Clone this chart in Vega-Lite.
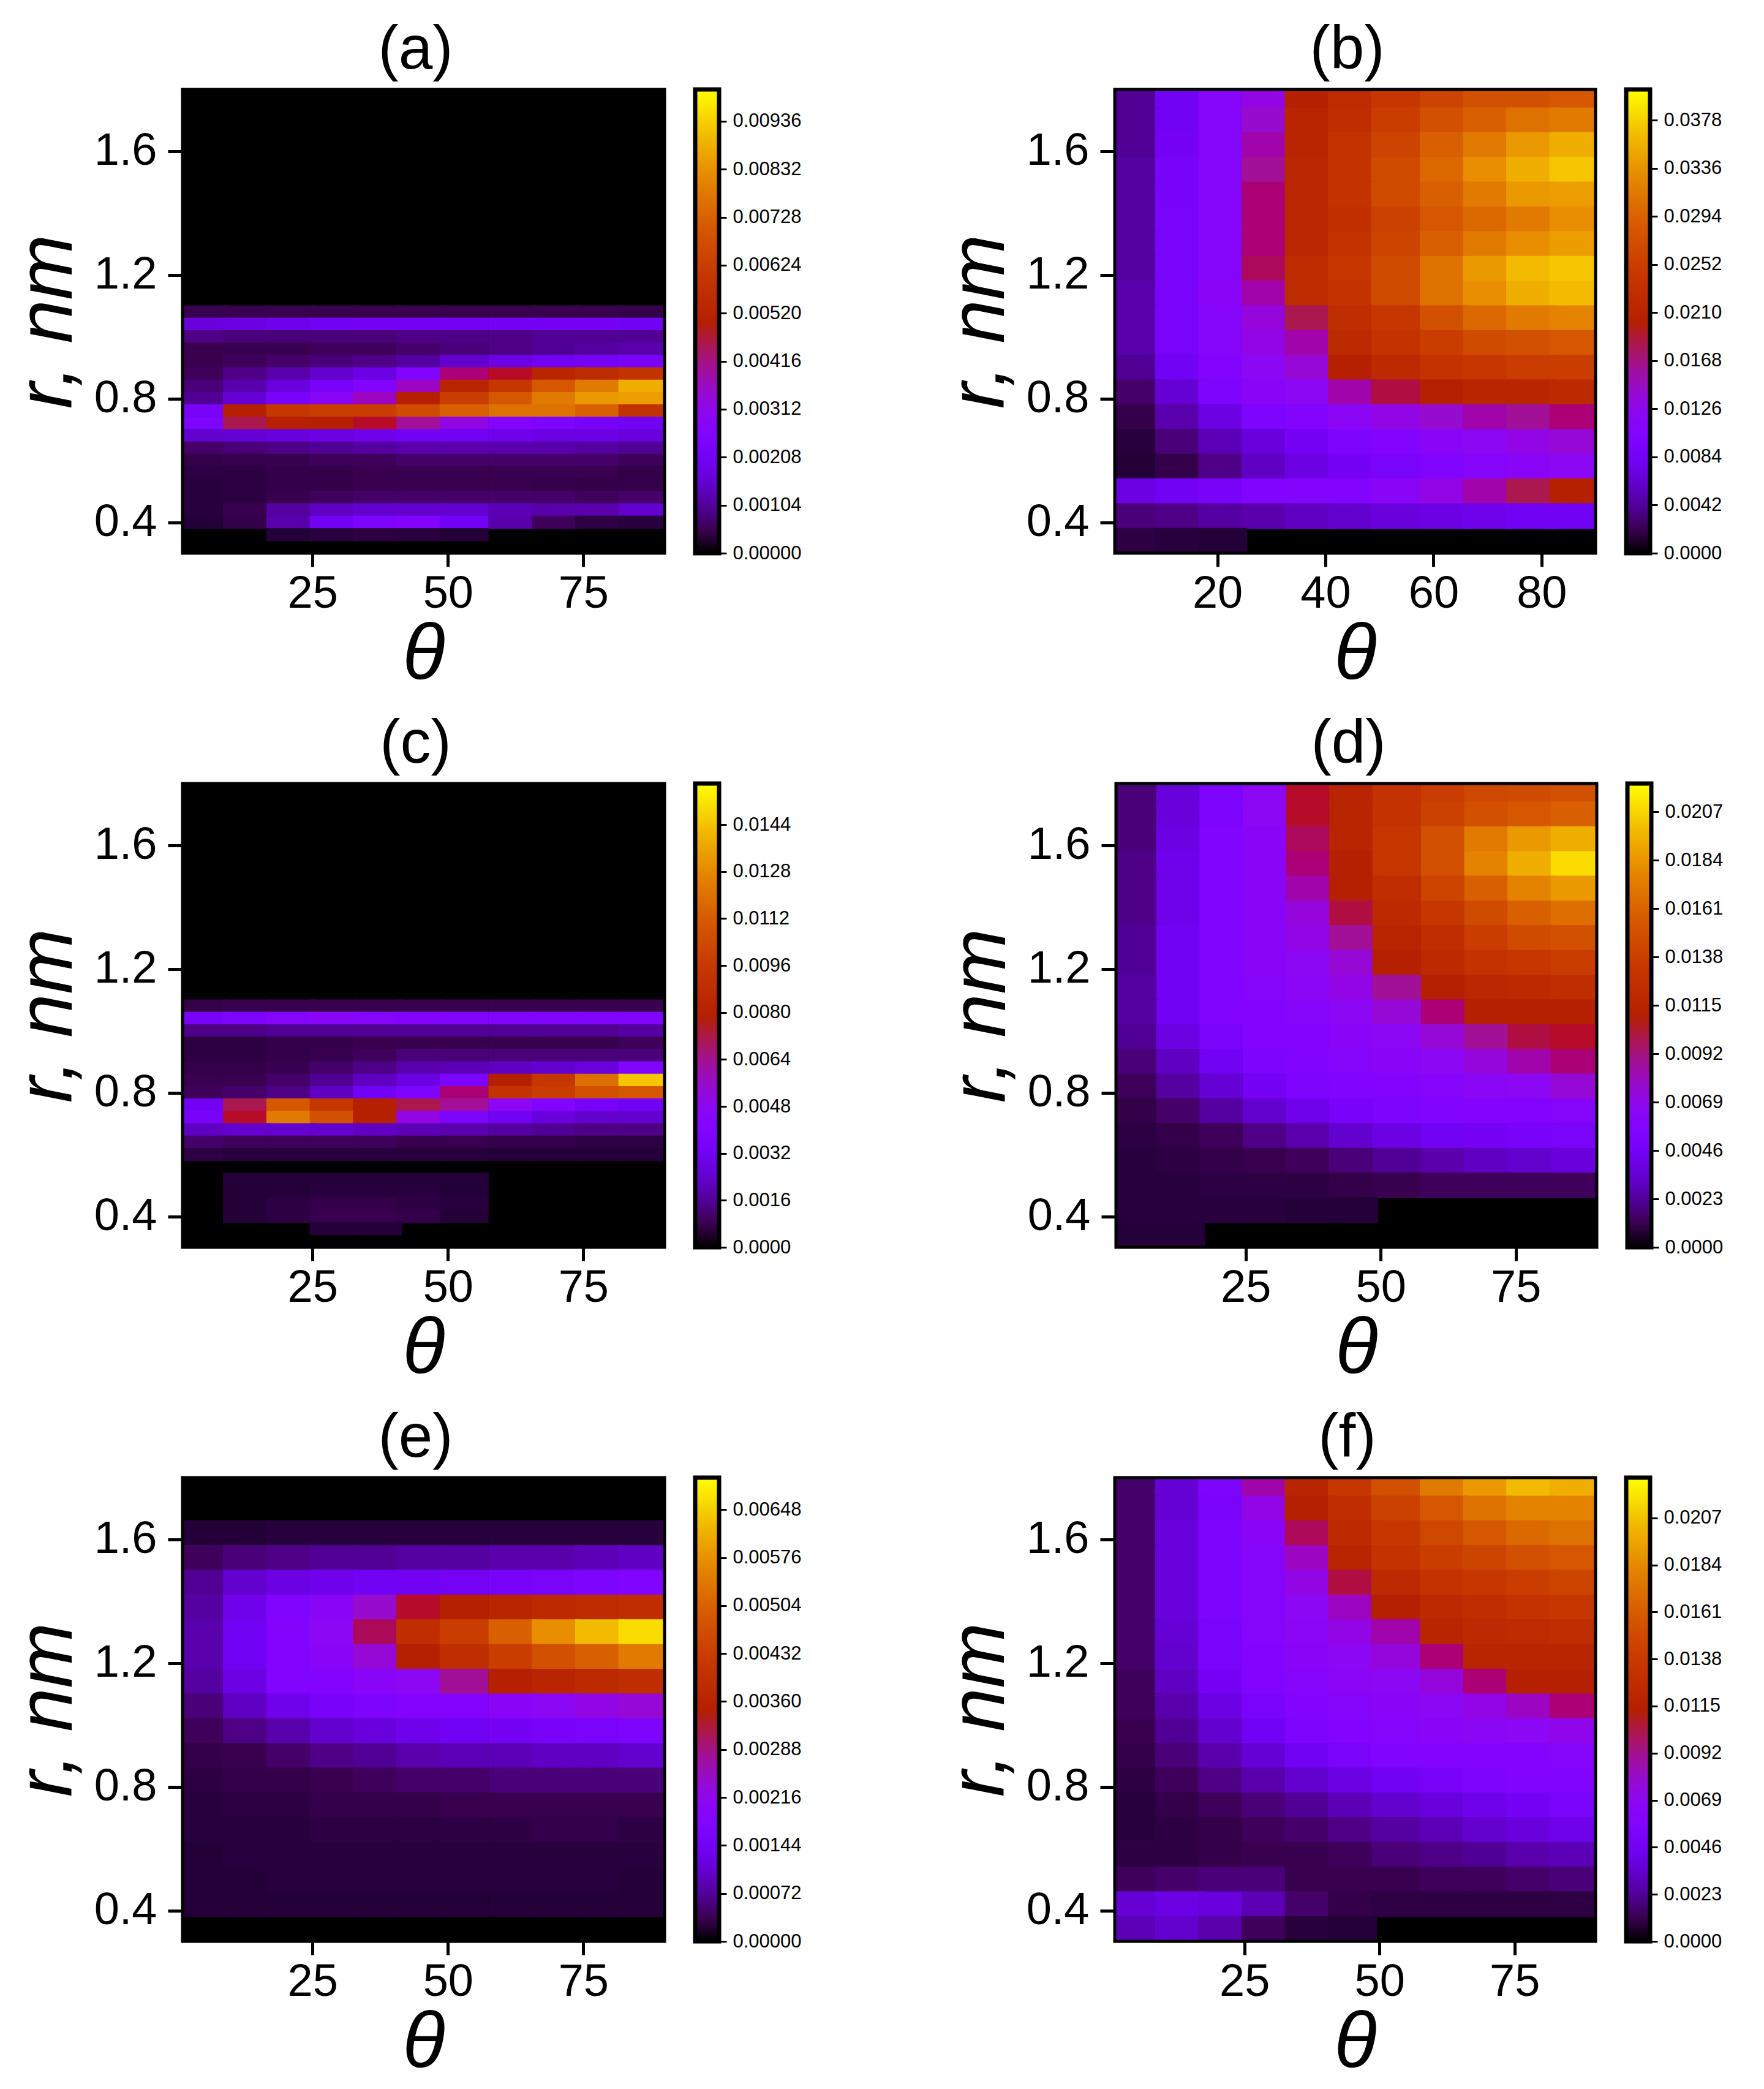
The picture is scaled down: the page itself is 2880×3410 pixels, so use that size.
{"$schema":"https://vega.github.io/schema/vega-lite/v6.json","background":"white","padding":{"left":14,"top":31,"right":0,"bottom":0},
"config":{"font":"Liberation Sans","view":{"stroke":null},"axis":{"grid":false,"domain":false,"tickColor":"black","labelColor":"black","titleColor":"black","labelFont":"Liberation Sans","titleFont":"Liberation Sans","titleFontStyle":"italic","titleFontWeight":"normal","titleFontSize":128,"labelFontSize":74,"tickWidth":5,"labelFlush":false},"axisX":{"tickSize":22,"labelPadding":8,"titlePadding":0},"axisY":{"tickSize":24,"labelPadding":18,"titlePadding":10},"title":{"font":"Liberation Sans","fontSize":100,"fontWeight":"normal","dx":-13,"offset":11}},
"datasets":{
"a":[
{"t":5,"r":1.08,"v":5},{"t":13,"r":1.08,"v":5},{"t":21,"r":1.08,"v":5},{"t":29,"r":1.08,"v":5},{"t":37,"r":1.08,"v":5},{"t":45,"r":1.08,"v":5},{"t":53,"r":1.08,"v":5},{"t":62,"r":1.08,"v":5},{"t":70,"r":1.08,"v":5},{"t":78,"r":1.08,"v":5},{"t":86,"r":1.08,"v":4},
{"t":5,"r":1.04,"v":17},{"t":13,"r":1.04,"v":18},{"t":21,"r":1.04,"v":19},{"t":29,"r":1.04,"v":20},{"t":37,"r":1.04,"v":21},{"t":45,"r":1.04,"v":21},{"t":53,"r":1.04,"v":21},{"t":62,"r":1.04,"v":21},{"t":70,"r":1.04,"v":21},{"t":78,"r":1.04,"v":21},{"t":86,"r":1.04,"v":20},
{"t":5,"r":1.0,"v":9},{"t":13,"r":1.0,"v":8},{"t":21,"r":1.0,"v":8},{"t":29,"r":1.0,"v":8},{"t":37,"r":1.0,"v":8},{"t":45,"r":1.0,"v":9},{"t":53,"r":1.0,"v":9},{"t":62,"r":1.0,"v":9},{"t":70,"r":1.0,"v":10},{"t":78,"r":1.0,"v":10},{"t":86,"r":1.0,"v":10},
{"t":5,"r":0.96,"v":5},{"t":13,"r":0.96,"v":5},{"t":21,"r":0.96,"v":5},{"t":29,"r":0.96,"v":6},{"t":37,"r":0.96,"v":6},{"t":45,"r":0.96,"v":7},{"t":53,"r":0.96,"v":8},{"t":62,"r":0.96,"v":9},{"t":70,"r":0.96,"v":10},{"t":78,"r":0.96,"v":11},{"t":86,"r":0.96,"v":12},
{"t":5,"r":0.92,"v":5},{"t":13,"r":0.92,"v":6},{"t":21,"r":0.92,"v":7},{"t":29,"r":0.92,"v":8},{"t":37,"r":0.92,"v":9},{"t":45,"r":0.92,"v":11},{"t":53,"r":0.92,"v":15},{"t":62,"r":0.92,"v":18},{"t":70,"r":0.92,"v":20},{"t":78,"r":0.92,"v":21},{"t":86,"r":0.92,"v":22},
{"t":5,"r":0.88,"v":6},{"t":13,"r":0.88,"v":9},{"t":21,"r":0.88,"v":12},{"t":29,"r":0.88,"v":15},{"t":37,"r":0.88,"v":18},{"t":45,"r":0.88,"v":25},{"t":53,"r":0.88,"v":42},{"t":62,"r":0.88,"v":48},{"t":70,"r":0.88,"v":52},{"t":78,"r":0.88,"v":55},{"t":86,"r":0.88,"v":58},
{"t":5,"r":0.84,"v":8},{"t":13,"r":0.84,"v":12},{"t":21,"r":0.84,"v":17},{"t":29,"r":0.84,"v":22},{"t":37,"r":0.84,"v":26},{"t":45,"r":0.84,"v":36},{"t":53,"r":0.84,"v":52},{"t":62,"r":0.84,"v":60},{"t":70,"r":0.84,"v":70},{"t":78,"r":0.84,"v":78},{"t":86,"r":0.84,"v":88},
{"t":5,"r":0.8,"v":10},{"t":13,"r":0.8,"v":16},{"t":21,"r":0.8,"v":22},{"t":29,"r":0.8,"v":28},{"t":37,"r":0.8,"v":36},{"t":45,"r":0.8,"v":50},{"t":53,"r":0.8,"v":62},{"t":62,"r":0.8,"v":70},{"t":70,"r":0.8,"v":78},{"t":78,"r":0.8,"v":84},{"t":86,"r":0.8,"v":85},
{"t":5,"r":0.76,"v":22},{"t":13,"r":0.76,"v":50},{"t":21,"r":0.76,"v":60},{"t":29,"r":0.76,"v":62},{"t":37,"r":0.76,"v":62},{"t":45,"r":0.76,"v":66},{"t":53,"r":0.76,"v":72},{"t":62,"r":0.76,"v":76},{"t":70,"r":0.76,"v":76},{"t":78,"r":0.76,"v":72},{"t":86,"r":0.76,"v":58},
{"t":5,"r":0.72,"v":24},{"t":13,"r":0.72,"v":45},{"t":21,"r":0.72,"v":50},{"t":29,"r":0.72,"v":50},{"t":37,"r":0.72,"v":48},{"t":45,"r":0.72,"v":40},{"t":53,"r":0.72,"v":32},{"t":62,"r":0.72,"v":26},{"t":70,"r":0.72,"v":24},{"t":78,"r":0.72,"v":22},{"t":86,"r":0.72,"v":20},
{"t":5,"r":0.68,"v":15},{"t":13,"r":0.68,"v":16},{"t":21,"r":0.68,"v":17},{"t":29,"r":0.68,"v":18},{"t":37,"r":0.68,"v":19},{"t":45,"r":0.68,"v":20},{"t":53,"r":0.68,"v":20},{"t":62,"r":0.68,"v":19},{"t":70,"r":0.68,"v":18},{"t":78,"r":0.68,"v":18},{"t":86,"r":0.68,"v":17},
{"t":5,"r":0.64,"v":7},{"t":13,"r":0.64,"v":8},{"t":21,"r":0.64,"v":9},{"t":29,"r":0.64,"v":10},{"t":37,"r":0.64,"v":11},{"t":45,"r":0.64,"v":12},{"t":53,"r":0.64,"v":12},{"t":62,"r":0.64,"v":12},{"t":70,"r":0.64,"v":12},{"t":78,"r":0.64,"v":11},{"t":86,"r":0.64,"v":10},
{"t":5,"r":0.6,"v":4},{"t":13,"r":0.6,"v":5},{"t":21,"r":0.6,"v":5},{"t":29,"r":0.6,"v":6},{"t":37,"r":0.6,"v":6},{"t":45,"r":0.6,"v":7},{"t":53,"r":0.6,"v":7},{"t":62,"r":0.6,"v":7},{"t":70,"r":0.6,"v":7},{"t":78,"r":0.6,"v":7},{"t":86,"r":0.6,"v":6},
{"t":5,"r":0.56,"v":3},{"t":13,"r":0.56,"v":3},{"t":21,"r":0.56,"v":4},{"t":29,"r":0.56,"v":4},{"t":37,"r":0.56,"v":5},{"t":45,"r":0.56,"v":5},{"t":53,"r":0.56,"v":5},{"t":62,"r":0.56,"v":5},{"t":70,"r":0.56,"v":5},{"t":78,"r":0.56,"v":5},{"t":86,"r":0.56,"v":4},
{"t":5,"r":0.52,"v":2},{"t":13,"r":0.52,"v":3},{"t":21,"r":0.52,"v":4},{"t":29,"r":0.52,"v":4},{"t":37,"r":0.52,"v":5},{"t":45,"r":0.52,"v":5},{"t":53,"r":0.52,"v":5},{"t":62,"r":0.52,"v":5},{"t":70,"r":0.52,"v":4},{"t":78,"r":0.52,"v":4},{"t":86,"r":0.52,"v":4},
{"t":5,"r":0.48,"v":2},{"t":13,"r":0.48,"v":3},{"t":21,"r":0.48,"v":5},{"t":29,"r":0.48,"v":6},{"t":37,"r":0.48,"v":7},{"t":45,"r":0.48,"v":7},{"t":53,"r":0.48,"v":7},{"t":62,"r":0.48,"v":7},{"t":70,"r":0.48,"v":7},{"t":78,"r":0.48,"v":6},{"t":86,"r":0.48,"v":7},
{"t":5,"r":0.44,"v":2},{"t":13,"r":0.44,"v":5},{"t":21,"r":0.44,"v":11},{"t":29,"r":0.44,"v":14},{"t":37,"r":0.44,"v":15},{"t":45,"r":0.44,"v":15},{"t":53,"r":0.44,"v":15},{"t":62,"r":0.44,"v":13},{"t":70,"r":0.44,"v":12},{"t":78,"r":0.44,"v":12},{"t":86,"r":0.44,"v":15},
{"t":5,"r":0.4,"v":1},{"t":13,"r":0.4,"v":4},{"t":21,"r":0.4,"v":12},{"t":29,"r":0.4,"v":20},{"t":37,"r":0.4,"v":24},{"t":45,"r":0.4,"v":26},{"t":53,"r":0.4,"v":20},{"t":62,"r":0.4,"v":12},{"t":70,"r":0.4,"v":6},{"t":78,"r":0.4,"v":3},{"t":86,"r":0.4,"v":2},
{"t":21,"r":0.36,"v":1},{"t":29,"r":0.36,"v":2},{"t":37,"r":0.36,"v":3},{"t":45,"r":0.36,"v":2},{"t":53,"r":0.36,"v":1}],
"c":[
{"t":5,"r":1.08,"v":4},{"t":13,"r":1.08,"v":5},{"t":21,"r":1.08,"v":5},{"t":29,"r":1.08,"v":5},{"t":37,"r":1.08,"v":5},{"t":45,"r":1.08,"v":5},{"t":53,"r":1.08,"v":5},{"t":62,"r":1.08,"v":5},{"t":70,"r":1.08,"v":5},{"t":78,"r":1.08,"v":5},{"t":86,"r":1.08,"v":5},
{"t":5,"r":1.04,"v":22},{"t":13,"r":1.04,"v":24},{"t":21,"r":1.04,"v":27},{"t":29,"r":1.04,"v":28},{"t":37,"r":1.04,"v":27},{"t":45,"r":1.04,"v":26},{"t":53,"r":1.04,"v":25},{"t":62,"r":1.04,"v":25},{"t":70,"r":1.04,"v":25},{"t":78,"r":1.04,"v":25},{"t":86,"r":1.04,"v":25},
{"t":5,"r":1.0,"v":9},{"t":13,"r":1.0,"v":9},{"t":21,"r":1.0,"v":10},{"t":29,"r":1.0,"v":10},{"t":37,"r":1.0,"v":10},{"t":45,"r":1.0,"v":10},{"t":53,"r":1.0,"v":10},{"t":62,"r":1.0,"v":10},{"t":70,"r":1.0,"v":10},{"t":78,"r":1.0,"v":10},{"t":86,"r":1.0,"v":11},
{"t":5,"r":0.96,"v":3},{"t":13,"r":0.96,"v":3},{"t":21,"r":0.96,"v":4},{"t":29,"r":0.96,"v":4},{"t":37,"r":0.96,"v":5},{"t":45,"r":0.96,"v":5},{"t":53,"r":0.96,"v":5},{"t":62,"r":0.96,"v":5},{"t":70,"r":0.96,"v":5},{"t":78,"r":0.96,"v":5},{"t":86,"r":0.96,"v":6},
{"t":5,"r":0.92,"v":3},{"t":13,"r":0.92,"v":3},{"t":21,"r":0.92,"v":4},{"t":29,"r":0.92,"v":5},{"t":37,"r":0.92,"v":6},{"t":45,"r":0.92,"v":8},{"t":53,"r":0.92,"v":8},{"t":62,"r":0.92,"v":8},{"t":70,"r":0.92,"v":8},{"t":78,"r":0.92,"v":8},{"t":86,"r":0.92,"v":8},
{"t":5,"r":0.88,"v":4},{"t":13,"r":0.88,"v":4},{"t":21,"r":0.88,"v":5},{"t":29,"r":0.88,"v":7},{"t":37,"r":0.88,"v":9},{"t":45,"r":0.88,"v":12},{"t":53,"r":0.88,"v":13},{"t":62,"r":0.88,"v":14},{"t":70,"r":0.88,"v":15},{"t":78,"r":0.88,"v":17},{"t":86,"r":0.88,"v":25},
{"t":5,"r":0.84,"v":5},{"t":13,"r":0.84,"v":5},{"t":21,"r":0.84,"v":7},{"t":29,"r":0.84,"v":10},{"t":37,"r":0.84,"v":14},{"t":45,"r":0.84,"v":18},{"t":53,"r":0.84,"v":24},{"t":62,"r":0.84,"v":50},{"t":70,"r":0.84,"v":60},{"t":78,"r":0.84,"v":75},{"t":86,"r":0.84,"v":92},
{"t":5,"r":0.8,"v":6},{"t":13,"r":0.8,"v":7},{"t":21,"r":0.8,"v":9},{"t":29,"r":0.8,"v":14},{"t":37,"r":0.8,"v":20},{"t":45,"r":0.8,"v":24},{"t":53,"r":0.8,"v":42},{"t":62,"r":0.8,"v":58},{"t":70,"r":0.8,"v":62},{"t":78,"r":0.8,"v":68},{"t":86,"r":0.8,"v":70},
{"t":5,"r":0.76,"v":20},{"t":13,"r":0.76,"v":45},{"t":21,"r":0.76,"v":70},{"t":29,"r":0.76,"v":60},{"t":37,"r":0.76,"v":50},{"t":45,"r":0.76,"v":45},{"t":53,"r":0.76,"v":40},{"t":62,"r":0.76,"v":30},{"t":70,"r":0.76,"v":25},{"t":78,"r":0.76,"v":22},{"t":86,"r":0.76,"v":20},
{"t":5,"r":0.72,"v":22},{"t":13,"r":0.72,"v":48},{"t":21,"r":0.72,"v":78},{"t":29,"r":0.72,"v":68},{"t":37,"r":0.72,"v":50},{"t":45,"r":0.72,"v":32},{"t":53,"r":0.72,"v":24},{"t":62,"r":0.72,"v":20},{"t":70,"r":0.72,"v":17},{"t":78,"r":0.72,"v":15},{"t":86,"r":0.72,"v":15},
{"t":5,"r":0.68,"v":14},{"t":13,"r":0.68,"v":15},{"t":21,"r":0.68,"v":15},{"t":29,"r":0.68,"v":15},{"t":37,"r":0.68,"v":14},{"t":45,"r":0.68,"v":13},{"t":53,"r":0.68,"v":12},{"t":62,"r":0.68,"v":11},{"t":70,"r":0.68,"v":10},{"t":78,"r":0.68,"v":9},{"t":86,"r":0.68,"v":9},
{"t":5,"r":0.64,"v":7},{"t":13,"r":0.64,"v":6},{"t":21,"r":0.64,"v":6},{"t":29,"r":0.64,"v":6},{"t":37,"r":0.64,"v":6},{"t":45,"r":0.64,"v":5},{"t":53,"r":0.64,"v":5},{"t":62,"r":0.64,"v":4},{"t":70,"r":0.64,"v":4},{"t":78,"r":0.64,"v":3},{"t":86,"r":0.64,"v":3},
{"t":5,"r":0.6,"v":3},{"t":13,"r":0.6,"v":2},{"t":21,"r":0.6,"v":2},{"t":29,"r":0.6,"v":2},{"t":37,"r":0.6,"v":2},{"t":45,"r":0.6,"v":2},{"t":53,"r":0.6,"v":2},{"t":62,"r":0.6,"v":1},{"t":70,"r":0.6,"v":1},{"t":78,"r":0.6,"v":1},{"t":86,"r":0.6,"v":1},
{"t":13,"r":0.52,"v":1},{"t":21,"r":0.52,"v":1},{"t":29,"r":0.52,"v":1},{"t":37,"r":0.52,"v":1},{"t":45,"r":0.52,"v":1},{"t":53,"r":0.52,"v":1},
{"t":13,"r":0.48,"v":1},{"t":21,"r":0.48,"v":1},{"t":29,"r":0.48,"v":2},{"t":37,"r":0.48,"v":2},{"t":45,"r":0.48,"v":2},{"t":53,"r":0.48,"v":1},
{"t":13,"r":0.44,"v":1},{"t":21,"r":0.44,"v":3},{"t":29,"r":0.44,"v":4},{"t":37,"r":0.44,"v":4},{"t":45,"r":0.44,"v":3},{"t":53,"r":0.44,"v":2},
{"t":13,"r":0.4,"v":1},{"t":21,"r":0.4,"v":3},{"t":29,"r":0.4,"v":5},{"t":37,"r":0.4,"v":5},{"t":45,"r":0.4,"v":4},{"t":53,"r":0.4,"v":1},
{"t":29,"r":0.36,"v":1},{"t":37,"r":0.36,"v":1}],
"b":[
{"t":5,"r":1.78,"v":10},{"t":13,"r":1.78,"v":20},{"t":21,"r":1.78,"v":27},{"t":29,"r":1.78,"v":32},{"t":37,"r":1.78,"v":50},{"t":45,"r":1.78,"v":55},{"t":53,"r":1.78,"v":60},{"t":62,"r":1.78,"v":64},{"t":70,"r":1.78,"v":68},{"t":78,"r":1.78,"v":68},{"t":86,"r":1.78,"v":70},
{"t":5,"r":1.7,"v":10},{"t":13,"r":1.7,"v":20},{"t":21,"r":1.7,"v":27},{"t":29,"r":1.7,"v":35},{"t":37,"r":1.7,"v":52},{"t":45,"r":1.7,"v":56},{"t":53,"r":1.7,"v":62},{"t":62,"r":1.7,"v":68},{"t":70,"r":1.7,"v":72},{"t":78,"r":1.7,"v":76},{"t":86,"r":1.7,"v":78},
{"t":5,"r":1.62,"v":10},{"t":13,"r":1.62,"v":21},{"t":21,"r":1.62,"v":27},{"t":29,"r":1.62,"v":38},{"t":37,"r":1.62,"v":52},{"t":45,"r":1.62,"v":58},{"t":53,"r":1.62,"v":64},{"t":62,"r":1.62,"v":72},{"t":70,"r":1.62,"v":78},{"t":78,"r":1.62,"v":84},{"t":86,"r":1.62,"v":88},
{"t":5,"r":1.54,"v":11},{"t":13,"r":1.54,"v":22},{"t":21,"r":1.54,"v":27},{"t":29,"r":1.54,"v":40},{"t":37,"r":1.54,"v":53},{"t":45,"r":1.54,"v":58},{"t":53,"r":1.54,"v":66},{"t":62,"r":1.54,"v":74},{"t":70,"r":1.54,"v":82},{"t":78,"r":1.54,"v":88},{"t":86,"r":1.54,"v":92},
{"t":5,"r":1.46,"v":11},{"t":13,"r":1.46,"v":22},{"t":21,"r":1.46,"v":27},{"t":29,"r":1.46,"v":42},{"t":37,"r":1.46,"v":53},{"t":45,"r":1.46,"v":58},{"t":53,"r":1.46,"v":66},{"t":62,"r":1.46,"v":72},{"t":70,"r":1.46,"v":78},{"t":78,"r":1.46,"v":84},{"t":86,"r":1.46,"v":85},
{"t":5,"r":1.38,"v":11},{"t":13,"r":1.38,"v":23},{"t":21,"r":1.38,"v":27},{"t":29,"r":1.38,"v":42},{"t":37,"r":1.38,"v":53},{"t":45,"r":1.38,"v":57},{"t":53,"r":1.38,"v":63},{"t":62,"r":1.38,"v":70},{"t":70,"r":1.38,"v":74},{"t":78,"r":1.38,"v":78},{"t":86,"r":1.38,"v":82},
{"t":5,"r":1.3,"v":11},{"t":13,"r":1.3,"v":23},{"t":21,"r":1.3,"v":27},{"t":29,"r":1.3,"v":42},{"t":37,"r":1.3,"v":53},{"t":45,"r":1.3,"v":58},{"t":53,"r":1.3,"v":64},{"t":62,"r":1.3,"v":72},{"t":70,"r":1.3,"v":78},{"t":78,"r":1.3,"v":82},{"t":86,"r":1.3,"v":85},
{"t":5,"r":1.22,"v":11},{"t":13,"r":1.22,"v":23},{"t":21,"r":1.22,"v":27},{"t":29,"r":1.22,"v":44},{"t":37,"r":1.22,"v":55},{"t":45,"r":1.22,"v":60},{"t":53,"r":1.22,"v":66},{"t":62,"r":1.22,"v":76},{"t":70,"r":1.22,"v":84},{"t":78,"r":1.22,"v":90},{"t":86,"r":1.22,"v":92},
{"t":5,"r":1.14,"v":12},{"t":13,"r":1.14,"v":23},{"t":21,"r":1.14,"v":28},{"t":29,"r":1.14,"v":38},{"t":37,"r":1.14,"v":55},{"t":45,"r":1.14,"v":58},{"t":53,"r":1.14,"v":66},{"t":62,"r":1.14,"v":76},{"t":70,"r":1.14,"v":82},{"t":78,"r":1.14,"v":88},{"t":86,"r":1.14,"v":90},
{"t":5,"r":1.06,"v":12},{"t":13,"r":1.06,"v":23},{"t":21,"r":1.06,"v":27},{"t":29,"r":1.06,"v":33},{"t":37,"r":1.06,"v":45},{"t":45,"r":1.06,"v":56},{"t":53,"r":1.06,"v":60},{"t":62,"r":1.06,"v":68},{"t":70,"r":1.06,"v":74},{"t":78,"r":1.06,"v":78},{"t":86,"r":1.06,"v":80},
{"t":5,"r":0.98,"v":12},{"t":13,"r":0.98,"v":23},{"t":21,"r":0.98,"v":27},{"t":29,"r":0.98,"v":32},{"t":37,"r":0.98,"v":38},{"t":45,"r":0.98,"v":54},{"t":53,"r":0.98,"v":58},{"t":62,"r":0.98,"v":62},{"t":70,"r":0.98,"v":66},{"t":78,"r":0.98,"v":68},{"t":86,"r":0.98,"v":70},
{"t":5,"r":0.9,"v":10},{"t":13,"r":0.9,"v":20},{"t":21,"r":0.9,"v":26},{"t":29,"r":0.9,"v":30},{"t":37,"r":0.9,"v":34},{"t":45,"r":0.9,"v":50},{"t":53,"r":0.9,"v":54},{"t":62,"r":0.9,"v":58},{"t":70,"r":0.9,"v":60},{"t":78,"r":0.9,"v":62},{"t":86,"r":0.9,"v":62},
{"t":5,"r":0.82,"v":7},{"t":13,"r":0.82,"v":16},{"t":21,"r":0.82,"v":24},{"t":29,"r":0.82,"v":28},{"t":37,"r":0.82,"v":30},{"t":45,"r":0.82,"v":38},{"t":53,"r":0.82,"v":46},{"t":62,"r":0.82,"v":50},{"t":70,"r":0.82,"v":52},{"t":78,"r":0.82,"v":52},{"t":86,"r":0.82,"v":54},
{"t":5,"r":0.74,"v":4},{"t":13,"r":0.74,"v":12},{"t":21,"r":0.74,"v":18},{"t":29,"r":0.74,"v":24},{"t":37,"r":0.74,"v":26},{"t":45,"r":0.74,"v":29},{"t":53,"r":0.74,"v":32},{"t":62,"r":0.74,"v":35},{"t":70,"r":0.74,"v":38},{"t":78,"r":0.74,"v":40},{"t":86,"r":0.74,"v":42},
{"t":5,"r":0.66,"v":2},{"t":13,"r":0.66,"v":8},{"t":21,"r":0.66,"v":13},{"t":29,"r":0.66,"v":17},{"t":37,"r":0.66,"v":21},{"t":45,"r":0.66,"v":24},{"t":53,"r":0.66,"v":26},{"t":62,"r":0.66,"v":28},{"t":70,"r":0.66,"v":30},{"t":78,"r":0.66,"v":32},{"t":86,"r":0.66,"v":34},
{"t":5,"r":0.58,"v":1},{"t":13,"r":0.58,"v":4},{"t":21,"r":0.58,"v":9},{"t":29,"r":0.58,"v":14},{"t":37,"r":0.58,"v":18},{"t":45,"r":0.58,"v":21},{"t":53,"r":0.58,"v":23},{"t":62,"r":0.58,"v":25},{"t":70,"r":0.58,"v":27},{"t":78,"r":0.58,"v":28},{"t":86,"r":0.58,"v":30},
{"t":5,"r":0.5,"v":18},{"t":13,"r":0.5,"v":20},{"t":21,"r":0.5,"v":22},{"t":29,"r":0.5,"v":25},{"t":37,"r":0.5,"v":26},{"t":45,"r":0.5,"v":26},{"t":53,"r":0.5,"v":28},{"t":62,"r":0.5,"v":32},{"t":70,"r":0.5,"v":38},{"t":78,"r":0.5,"v":45},{"t":86,"r":0.5,"v":50},
{"t":5,"r":0.42,"v":8},{"t":13,"r":0.42,"v":9},{"t":21,"r":0.42,"v":11},{"t":29,"r":0.42,"v":12},{"t":37,"r":0.42,"v":14},{"t":45,"r":0.42,"v":15},{"t":53,"r":0.42,"v":17},{"t":62,"r":0.42,"v":18},{"t":70,"r":0.42,"v":19},{"t":78,"r":0.42,"v":20},{"t":86,"r":0.42,"v":20},
{"t":5,"r":0.34,"v":3},{"t":13,"r":0.34,"v":2},{"t":21,"r":0.34,"v":1}],
"d":[
{"t":5,"r":1.78,"v":8},{"t":13,"r":1.78,"v":17},{"t":21,"r":1.78,"v":24},{"t":29,"r":1.78,"v":30},{"t":37,"r":1.78,"v":48},{"t":45,"r":1.78,"v":52},{"t":53,"r":1.78,"v":58},{"t":62,"r":1.78,"v":62},{"t":70,"r":1.78,"v":65},{"t":78,"r":1.78,"v":66},{"t":86,"r":1.78,"v":68},
{"t":5,"r":1.7,"v":8},{"t":13,"r":1.7,"v":17},{"t":21,"r":1.7,"v":24},{"t":29,"r":1.7,"v":30},{"t":37,"r":1.7,"v":48},{"t":45,"r":1.7,"v":52},{"t":53,"r":1.7,"v":58},{"t":62,"r":1.7,"v":63},{"t":70,"r":1.7,"v":68},{"t":78,"r":1.7,"v":70},{"t":86,"r":1.7,"v":72},
{"t":5,"r":1.62,"v":8},{"t":13,"r":1.62,"v":18},{"t":21,"r":1.62,"v":25},{"t":29,"r":1.62,"v":28},{"t":37,"r":1.62,"v":44},{"t":45,"r":1.62,"v":52},{"t":53,"r":1.62,"v":60},{"t":62,"r":1.62,"v":68},{"t":70,"r":1.62,"v":78},{"t":78,"r":1.62,"v":84},{"t":86,"r":1.62,"v":88},
{"t":5,"r":1.54,"v":9},{"t":13,"r":1.54,"v":19},{"t":21,"r":1.54,"v":25},{"t":29,"r":1.54,"v":28},{"t":37,"r":1.54,"v":42},{"t":45,"r":1.54,"v":50},{"t":53,"r":1.54,"v":60},{"t":62,"r":1.54,"v":68},{"t":70,"r":1.54,"v":80},{"t":78,"r":1.54,"v":88},{"t":86,"r":1.54,"v":95},
{"t":5,"r":1.46,"v":9},{"t":13,"r":1.46,"v":19},{"t":21,"r":1.46,"v":25},{"t":29,"r":1.46,"v":28},{"t":37,"r":1.46,"v":38},{"t":45,"r":1.46,"v":50},{"t":53,"r":1.46,"v":56},{"t":62,"r":1.46,"v":64},{"t":70,"r":1.46,"v":72},{"t":78,"r":1.46,"v":80},{"t":86,"r":1.46,"v":84},
{"t":5,"r":1.38,"v":9},{"t":13,"r":1.38,"v":19},{"t":21,"r":1.38,"v":25},{"t":29,"r":1.38,"v":28},{"t":37,"r":1.38,"v":33},{"t":45,"r":1.38,"v":46},{"t":53,"r":1.38,"v":54},{"t":62,"r":1.38,"v":60},{"t":70,"r":1.38,"v":66},{"t":78,"r":1.38,"v":72},{"t":86,"r":1.38,"v":75},
{"t":5,"r":1.3,"v":10},{"t":13,"r":1.3,"v":20},{"t":21,"r":1.3,"v":25},{"t":29,"r":1.3,"v":28},{"t":37,"r":1.3,"v":32},{"t":45,"r":1.3,"v":40},{"t":53,"r":1.3,"v":52},{"t":62,"r":1.3,"v":56},{"t":70,"r":1.3,"v":62},{"t":78,"r":1.3,"v":66},{"t":86,"r":1.3,"v":68},
{"t":5,"r":1.22,"v":10},{"t":13,"r":1.22,"v":20},{"t":21,"r":1.22,"v":25},{"t":29,"r":1.22,"v":28},{"t":37,"r":1.22,"v":30},{"t":45,"r":1.22,"v":34},{"t":53,"r":1.22,"v":50},{"t":62,"r":1.22,"v":54},{"t":70,"r":1.22,"v":58},{"t":78,"r":1.22,"v":60},{"t":86,"r":1.22,"v":62},
{"t":5,"r":1.14,"v":11},{"t":13,"r":1.14,"v":20},{"t":21,"r":1.14,"v":25},{"t":29,"r":1.14,"v":27},{"t":37,"r":1.14,"v":29},{"t":45,"r":1.14,"v":32},{"t":53,"r":1.14,"v":40},{"t":62,"r":1.14,"v":50},{"t":70,"r":1.14,"v":53},{"t":78,"r":1.14,"v":54},{"t":86,"r":1.14,"v":56},
{"t":5,"r":1.06,"v":11},{"t":13,"r":1.06,"v":20},{"t":21,"r":1.06,"v":25},{"t":29,"r":1.06,"v":26},{"t":37,"r":1.06,"v":27},{"t":45,"r":1.06,"v":30},{"t":53,"r":1.06,"v":34},{"t":62,"r":1.06,"v":42},{"t":70,"r":1.06,"v":50},{"t":78,"r":1.06,"v":50},{"t":86,"r":1.06,"v":50},
{"t":5,"r":0.98,"v":10},{"t":13,"r":0.98,"v":18},{"t":21,"r":0.98,"v":23},{"t":29,"r":0.98,"v":26},{"t":37,"r":0.98,"v":26},{"t":45,"r":0.98,"v":28},{"t":53,"r":0.98,"v":30},{"t":62,"r":0.98,"v":34},{"t":70,"r":0.98,"v":40},{"t":78,"r":0.98,"v":46},{"t":86,"r":0.98,"v":48},
{"t":5,"r":0.9,"v":8},{"t":13,"r":0.9,"v":14},{"t":21,"r":0.9,"v":20},{"t":29,"r":0.9,"v":24},{"t":37,"r":0.9,"v":25},{"t":45,"r":0.9,"v":27},{"t":53,"r":0.9,"v":28},{"t":62,"r":0.9,"v":30},{"t":70,"r":0.9,"v":33},{"t":78,"r":0.9,"v":38},{"t":86,"r":0.9,"v":42},
{"t":5,"r":0.82,"v":6},{"t":13,"r":0.82,"v":11},{"t":21,"r":0.82,"v":16},{"t":29,"r":0.82,"v":21},{"t":37,"r":0.82,"v":24},{"t":45,"r":0.82,"v":25},{"t":53,"r":0.82,"v":26},{"t":62,"r":0.82,"v":27},{"t":70,"r":0.82,"v":29},{"t":78,"r":0.82,"v":30},{"t":86,"r":0.82,"v":34},
{"t":5,"r":0.74,"v":4},{"t":13,"r":0.74,"v":7},{"t":21,"r":0.74,"v":11},{"t":29,"r":0.74,"v":15},{"t":37,"r":0.74,"v":19},{"t":45,"r":0.74,"v":22},{"t":53,"r":0.74,"v":24},{"t":62,"r":0.74,"v":25},{"t":70,"r":0.74,"v":26},{"t":78,"r":0.74,"v":26},{"t":86,"r":0.74,"v":27},
{"t":5,"r":0.66,"v":3},{"t":13,"r":0.66,"v":4},{"t":21,"r":0.66,"v":6},{"t":29,"r":0.66,"v":9},{"t":37,"r":0.66,"v":12},{"t":45,"r":0.66,"v":15},{"t":53,"r":0.66,"v":18},{"t":62,"r":0.66,"v":20},{"t":70,"r":0.66,"v":21},{"t":78,"r":0.66,"v":22},{"t":86,"r":0.66,"v":23},
{"t":5,"r":0.58,"v":2},{"t":13,"r":0.58,"v":3},{"t":21,"r":0.58,"v":4},{"t":29,"r":0.58,"v":5},{"t":37,"r":0.58,"v":6},{"t":45,"r":0.58,"v":8},{"t":53,"r":0.58,"v":10},{"t":62,"r":0.58,"v":12},{"t":70,"r":0.58,"v":14},{"t":78,"r":0.58,"v":15},{"t":86,"r":0.58,"v":17},
{"t":5,"r":0.5,"v":2},{"t":13,"r":0.5,"v":2},{"t":21,"r":0.5,"v":3},{"t":29,"r":0.5,"v":3},{"t":37,"r":0.5,"v":3},{"t":45,"r":0.5,"v":4},{"t":53,"r":0.5,"v":5},{"t":62,"r":0.5,"v":6},{"t":70,"r":0.5,"v":6},{"t":78,"r":0.5,"v":6},{"t":86,"r":0.5,"v":6},
{"t":5,"r":0.42,"v":2},{"t":13,"r":0.42,"v":2},{"t":21,"r":0.42,"v":2},{"t":29,"r":0.42,"v":2},{"t":37,"r":0.42,"v":1},{"t":45,"r":0.42,"v":1},
{"t":5,"r":0.34,"v":1},{"t":13,"r":0.34,"v":1}],
"e":[
{"t":5,"r":1.62,"v":1},{"t":13,"r":1.62,"v":1},{"t":21,"r":1.62,"v":2},{"t":29,"r":1.62,"v":2},{"t":37,"r":1.62,"v":2},{"t":45,"r":1.62,"v":2},{"t":53,"r":1.62,"v":2},{"t":62,"r":1.62,"v":2},{"t":70,"r":1.62,"v":2},{"t":78,"r":1.62,"v":2},{"t":86,"r":1.62,"v":2},
{"t":5,"r":1.54,"v":6},{"t":13,"r":1.54,"v":8},{"t":21,"r":1.54,"v":9},{"t":29,"r":1.54,"v":10},{"t":37,"r":1.54,"v":10},{"t":45,"r":1.54,"v":11},{"t":53,"r":1.54,"v":11},{"t":62,"r":1.54,"v":12},{"t":70,"r":1.54,"v":12},{"t":78,"r":1.54,"v":13},{"t":86,"r":1.54,"v":14},
{"t":5,"r":1.46,"v":10},{"t":13,"r":1.46,"v":15},{"t":21,"r":1.46,"v":18},{"t":29,"r":1.46,"v":19},{"t":37,"r":1.46,"v":20},{"t":45,"r":1.46,"v":20},{"t":53,"r":1.46,"v":21},{"t":62,"r":1.46,"v":22},{"t":70,"r":1.46,"v":23},{"t":78,"r":1.46,"v":24},{"t":86,"r":1.46,"v":25},
{"t":5,"r":1.38,"v":11},{"t":13,"r":1.38,"v":19},{"t":21,"r":1.38,"v":25},{"t":29,"r":1.38,"v":28},{"t":37,"r":1.38,"v":35},{"t":45,"r":1.38,"v":48},{"t":53,"r":1.38,"v":50},{"t":62,"r":1.38,"v":52},{"t":70,"r":1.38,"v":54},{"t":78,"r":1.38,"v":55},{"t":86,"r":1.38,"v":56},
{"t":5,"r":1.3,"v":12},{"t":13,"r":1.3,"v":20},{"t":21,"r":1.3,"v":26},{"t":29,"r":1.3,"v":30},{"t":37,"r":1.3,"v":44},{"t":45,"r":1.3,"v":56},{"t":53,"r":1.3,"v":62},{"t":62,"r":1.3,"v":72},{"t":70,"r":1.3,"v":82},{"t":78,"r":1.3,"v":90},{"t":86,"r":1.3,"v":95},
{"t":5,"r":1.22,"v":12},{"t":13,"r":1.22,"v":20},{"t":21,"r":1.22,"v":26},{"t":29,"r":1.22,"v":28},{"t":37,"r":1.22,"v":34},{"t":45,"r":1.22,"v":50},{"t":53,"r":1.22,"v":56},{"t":62,"r":1.22,"v":62},{"t":70,"r":1.22,"v":68},{"t":78,"r":1.22,"v":72},{"t":86,"r":1.22,"v":78},
{"t":5,"r":1.14,"v":11},{"t":13,"r":1.14,"v":18},{"t":21,"r":1.14,"v":25},{"t":29,"r":1.14,"v":26},{"t":37,"r":1.14,"v":28},{"t":45,"r":1.14,"v":30},{"t":53,"r":1.14,"v":40},{"t":62,"r":1.14,"v":50},{"t":70,"r":1.14,"v":52},{"t":78,"r":1.14,"v":54},{"t":86,"r":1.14,"v":56},
{"t":5,"r":1.06,"v":8},{"t":13,"r":1.06,"v":14},{"t":21,"r":1.06,"v":19},{"t":29,"r":1.06,"v":22},{"t":37,"r":1.06,"v":24},{"t":45,"r":1.06,"v":26},{"t":53,"r":1.06,"v":26},{"t":62,"r":1.06,"v":28},{"t":70,"r":1.06,"v":30},{"t":78,"r":1.06,"v":32},{"t":86,"r":1.06,"v":34},
{"t":5,"r":0.98,"v":6},{"t":13,"r":0.98,"v":9},{"t":21,"r":0.98,"v":12},{"t":29,"r":0.98,"v":15},{"t":37,"r":0.98,"v":17},{"t":45,"r":0.98,"v":19},{"t":53,"r":0.98,"v":20},{"t":62,"r":0.98,"v":21},{"t":70,"r":0.98,"v":22},{"t":78,"r":0.98,"v":23},{"t":86,"r":0.98,"v":24},
{"t":5,"r":0.9,"v":4},{"t":13,"r":0.9,"v":5},{"t":21,"r":0.9,"v":7},{"t":29,"r":0.9,"v":9},{"t":37,"r":0.9,"v":10},{"t":45,"r":0.9,"v":12},{"t":53,"r":0.9,"v":13},{"t":62,"r":0.9,"v":13},{"t":70,"r":0.9,"v":14},{"t":78,"r":0.9,"v":14},{"t":86,"r":0.9,"v":15},
{"t":5,"r":0.82,"v":3},{"t":13,"r":0.82,"v":4},{"t":21,"r":0.82,"v":4},{"t":29,"r":0.82,"v":5},{"t":37,"r":0.82,"v":6},{"t":45,"r":0.82,"v":7},{"t":53,"r":0.82,"v":7},{"t":62,"r":0.82,"v":8},{"t":70,"r":0.82,"v":8},{"t":78,"r":0.82,"v":8},{"t":86,"r":0.82,"v":8},
{"t":5,"r":0.74,"v":2},{"t":13,"r":0.74,"v":3},{"t":21,"r":0.74,"v":3},{"t":29,"r":0.74,"v":4},{"t":37,"r":0.74,"v":4},{"t":45,"r":0.74,"v":4},{"t":53,"r":0.74,"v":5},{"t":62,"r":0.74,"v":5},{"t":70,"r":0.74,"v":5},{"t":78,"r":0.74,"v":5},{"t":86,"r":0.74,"v":5},
{"t":5,"r":0.66,"v":2},{"t":13,"r":0.66,"v":2},{"t":21,"r":0.66,"v":2},{"t":29,"r":0.66,"v":3},{"t":37,"r":0.66,"v":3},{"t":45,"r":0.66,"v":3},{"t":53,"r":0.66,"v":3},{"t":62,"r":0.66,"v":3},{"t":70,"r":0.66,"v":4},{"t":78,"r":0.66,"v":4},{"t":86,"r":0.66,"v":3},
{"t":5,"r":0.58,"v":1},{"t":13,"r":0.58,"v":2},{"t":21,"r":0.58,"v":2},{"t":29,"r":0.58,"v":2},{"t":37,"r":0.58,"v":2},{"t":45,"r":0.58,"v":2},{"t":53,"r":0.58,"v":2},{"t":62,"r":0.58,"v":2},{"t":70,"r":0.58,"v":2},{"t":78,"r":0.58,"v":2},{"t":86,"r":0.58,"v":2},
{"t":5,"r":0.5,"v":1},{"t":13,"r":0.5,"v":1},{"t":21,"r":0.5,"v":2},{"t":29,"r":0.5,"v":2},{"t":37,"r":0.5,"v":2},{"t":45,"r":0.5,"v":2},{"t":53,"r":0.5,"v":2},{"t":62,"r":0.5,"v":2},{"t":70,"r":0.5,"v":2},{"t":78,"r":0.5,"v":2},{"t":86,"r":0.5,"v":1},
{"t":5,"r":0.42,"v":1},{"t":13,"r":0.42,"v":1},{"t":21,"r":0.42,"v":1},{"t":29,"r":0.42,"v":1},{"t":37,"r":0.42,"v":1},{"t":45,"r":0.42,"v":1},{"t":53,"r":0.42,"v":1},{"t":62,"r":0.42,"v":1},{"t":70,"r":0.42,"v":1},{"t":78,"r":0.42,"v":1},{"t":86,"r":0.42,"v":1}],
"f":[
{"t":5,"r":1.78,"v":7},{"t":13,"r":1.78,"v":16},{"t":21,"r":1.78,"v":24},{"t":29,"r":1.78,"v":38},{"t":37,"r":1.78,"v":52},{"t":45,"r":1.78,"v":60},{"t":53,"r":1.78,"v":68},{"t":62,"r":1.78,"v":78},{"t":70,"r":1.78,"v":84},{"t":78,"r":1.78,"v":90},{"t":86,"r":1.78,"v":88},
{"t":5,"r":1.7,"v":7},{"t":13,"r":1.7,"v":16},{"t":21,"r":1.7,"v":23},{"t":29,"r":1.7,"v":32},{"t":37,"r":1.7,"v":50},{"t":45,"r":1.7,"v":56},{"t":53,"r":1.7,"v":63},{"t":62,"r":1.7,"v":70},{"t":70,"r":1.7,"v":76},{"t":78,"r":1.7,"v":80},{"t":86,"r":1.7,"v":80},
{"t":5,"r":1.62,"v":7},{"t":13,"r":1.62,"v":17},{"t":21,"r":1.62,"v":24},{"t":29,"r":1.62,"v":28},{"t":37,"r":1.62,"v":44},{"t":45,"r":1.62,"v":54},{"t":53,"r":1.62,"v":60},{"t":62,"r":1.62,"v":65},{"t":70,"r":1.62,"v":70},{"t":78,"r":1.62,"v":74},{"t":86,"r":1.62,"v":76},
{"t":5,"r":1.54,"v":7},{"t":13,"r":1.54,"v":17},{"t":21,"r":1.54,"v":24},{"t":29,"r":1.54,"v":27},{"t":37,"r":1.54,"v":36},{"t":45,"r":1.54,"v":52},{"t":53,"r":1.54,"v":58},{"t":62,"r":1.54,"v":62},{"t":70,"r":1.54,"v":64},{"t":78,"r":1.54,"v":68},{"t":86,"r":1.54,"v":70},
{"t":5,"r":1.46,"v":7},{"t":13,"r":1.46,"v":17},{"t":21,"r":1.46,"v":24},{"t":29,"r":1.46,"v":27},{"t":37,"r":1.46,"v":32},{"t":45,"r":1.46,"v":46},{"t":53,"r":1.46,"v":54},{"t":62,"r":1.46,"v":58},{"t":70,"r":1.46,"v":60},{"t":78,"r":1.46,"v":62},{"t":86,"r":1.46,"v":64},
{"t":5,"r":1.38,"v":7},{"t":13,"r":1.38,"v":17},{"t":21,"r":1.38,"v":24},{"t":29,"r":1.38,"v":27},{"t":37,"r":1.38,"v":30},{"t":45,"r":1.38,"v":36},{"t":53,"r":1.38,"v":50},{"t":62,"r":1.38,"v":54},{"t":70,"r":1.38,"v":56},{"t":78,"r":1.38,"v":58},{"t":86,"r":1.38,"v":60},
{"t":5,"r":1.3,"v":7},{"t":13,"r":1.3,"v":16},{"t":21,"r":1.3,"v":23},{"t":29,"r":1.3,"v":27},{"t":37,"r":1.3,"v":29},{"t":45,"r":1.3,"v":32},{"t":53,"r":1.3,"v":38},{"t":62,"r":1.3,"v":52},{"t":70,"r":1.3,"v":54},{"t":78,"r":1.3,"v":55},{"t":86,"r":1.3,"v":56},
{"t":5,"r":1.22,"v":7},{"t":13,"r":1.22,"v":15},{"t":21,"r":1.22,"v":23},{"t":29,"r":1.22,"v":26},{"t":37,"r":1.22,"v":28},{"t":45,"r":1.22,"v":30},{"t":53,"r":1.22,"v":33},{"t":62,"r":1.22,"v":42},{"t":70,"r":1.22,"v":52},{"t":78,"r":1.22,"v":52},{"t":86,"r":1.22,"v":52},
{"t":5,"r":1.14,"v":6},{"t":13,"r":1.14,"v":14},{"t":21,"r":1.14,"v":21},{"t":29,"r":1.14,"v":25},{"t":37,"r":1.14,"v":27},{"t":45,"r":1.14,"v":29},{"t":53,"r":1.14,"v":30},{"t":62,"r":1.14,"v":33},{"t":70,"r":1.14,"v":42},{"t":78,"r":1.14,"v":50},{"t":86,"r":1.14,"v":50},
{"t":5,"r":1.06,"v":6},{"t":13,"r":1.06,"v":12},{"t":21,"r":1.06,"v":18},{"t":29,"r":1.06,"v":23},{"t":37,"r":1.06,"v":26},{"t":45,"r":1.06,"v":27},{"t":53,"r":1.06,"v":28},{"t":62,"r":1.06,"v":30},{"t":70,"r":1.06,"v":32},{"t":78,"r":1.06,"v":36},{"t":86,"r":1.06,"v":42},
{"t":5,"r":0.98,"v":5},{"t":13,"r":0.98,"v":10},{"t":21,"r":0.98,"v":15},{"t":29,"r":0.98,"v":20},{"t":37,"r":0.98,"v":24},{"t":45,"r":0.98,"v":26},{"t":53,"r":0.98,"v":27},{"t":62,"r":0.98,"v":28},{"t":70,"r":0.98,"v":29},{"t":78,"r":0.98,"v":30},{"t":86,"r":0.98,"v":31},
{"t":5,"r":0.9,"v":4},{"t":13,"r":0.9,"v":8},{"t":21,"r":0.9,"v":12},{"t":29,"r":0.9,"v":16},{"t":37,"r":0.9,"v":20},{"t":45,"r":0.9,"v":23},{"t":53,"r":0.9,"v":25},{"t":62,"r":0.9,"v":26},{"t":70,"r":0.9,"v":26},{"t":78,"r":0.9,"v":26},{"t":86,"r":0.9,"v":27},
{"t":5,"r":0.82,"v":3},{"t":13,"r":0.82,"v":6},{"t":21,"r":0.82,"v":9},{"t":29,"r":0.82,"v":12},{"t":37,"r":0.82,"v":15},{"t":45,"r":0.82,"v":18},{"t":53,"r":0.82,"v":20},{"t":62,"r":0.82,"v":22},{"t":70,"r":0.82,"v":24},{"t":78,"r":0.82,"v":25},{"t":86,"r":0.82,"v":25},
{"t":5,"r":0.74,"v":2},{"t":13,"r":0.74,"v":4},{"t":21,"r":0.74,"v":6},{"t":29,"r":0.74,"v":8},{"t":37,"r":0.74,"v":10},{"t":45,"r":0.74,"v":13},{"t":53,"r":0.74,"v":15},{"t":62,"r":0.74,"v":17},{"t":70,"r":0.74,"v":19},{"t":78,"r":0.74,"v":21},{"t":86,"r":0.74,"v":23},
{"t":5,"r":0.66,"v":2},{"t":13,"r":0.66,"v":3},{"t":21,"r":0.66,"v":4},{"t":29,"r":0.66,"v":6},{"t":37,"r":0.66,"v":7},{"t":45,"r":0.66,"v":9},{"t":53,"r":0.66,"v":11},{"t":62,"r":0.66,"v":13},{"t":70,"r":0.66,"v":15},{"t":78,"r":0.66,"v":17},{"t":86,"r":0.66,"v":19},
{"t":5,"r":0.58,"v":3},{"t":13,"r":0.58,"v":3},{"t":21,"r":0.58,"v":4},{"t":29,"r":0.58,"v":5},{"t":37,"r":0.58,"v":5},{"t":45,"r":0.58,"v":6},{"t":53,"r":0.58,"v":8},{"t":62,"r":0.58,"v":9},{"t":70,"r":0.58,"v":10},{"t":78,"r":0.58,"v":12},{"t":86,"r":0.58,"v":13},
{"t":5,"r":0.5,"v":6},{"t":13,"r":0.5,"v":7},{"t":21,"r":0.5,"v":8},{"t":29,"r":0.5,"v":8},{"t":37,"r":0.5,"v":5},{"t":45,"r":0.5,"v":5},{"t":53,"r":0.5,"v":5},{"t":62,"r":0.5,"v":6},{"t":70,"r":0.5,"v":6},{"t":78,"r":0.5,"v":7},{"t":86,"r":0.5,"v":8},
{"t":5,"r":0.42,"v":16},{"t":13,"r":0.42,"v":18},{"t":21,"r":0.42,"v":17},{"t":29,"r":0.42,"v":13},{"t":37,"r":0.42,"v":7},{"t":45,"r":0.42,"v":4},{"t":53,"r":0.42,"v":3},{"t":62,"r":0.42,"v":3},{"t":70,"r":0.42,"v":3},{"t":78,"r":0.42,"v":3},{"t":86,"r":0.42,"v":3},
{"t":5,"r":0.34,"v":13},{"t":13,"r":0.34,"v":15},{"t":21,"r":0.34,"v":12},{"t":29,"r":0.34,"v":6},{"t":37,"r":0.34,"v":2},{"t":45,"r":0.34,"v":1}]
},
"spacing":31,
"vconcat":[
{"spacing":227,"hconcat":[{"spacing":43,"hconcat":[
{"width":787,"height":757,"view":{"fill":"black","stroke":null},"title":"(a)","layer":[{"data":{"name":"a"},"mark":{"type":"rect","width":80,"height":21.5,"clip":true},"encoding":{"x":{"field":"t","type":"quantitative","scale":{"domain":[1,90],"nice":false,"zero":false},"axis":{"values":[25,50,75],"title":"θ"}},"y":{"field":"r","type":"quantitative","scale":{"domain":[0.3,1.8],"nice":false,"zero":false},"axis":{"values":[0.4,0.8,1.2,1.6],"format":".1f","title":"r, nm"}},"color":{"field":"v","type":"quantitative","legend":null,"scale":{"domain":[0,5,10,15,20,25,30,35,40,45,50,60,70,80,90,100],"range":["#000000","#39004f","#510096","#6301ce","#7202f3","#8004ff","#8c07f3","#970bce","#a11096","#ab174f","#b42000","#c63700","#d55700","#e48300","#f2ba00","#ffff00"]}}}},{"data":{"values":[{}]},"mark":{"type":"rect","filled":false,"stroke":"black","strokeWidth":5},"encoding":{}}]},
{"width":39,"height":757,"data":{"values":[{"v0":0,"v1":0.01005}]},"mark":{"type":"rect","stroke":"black","strokeWidth":7,"fill":{"gradient":"linear","x1":0,"y1":1,"x2":0,"y2":0,"stops":[{"offset":0,"color":"#000000"},{"offset":0.05,"color":"#39004f"},{"offset":0.1,"color":"#510096"},{"offset":0.15,"color":"#6301ce"},{"offset":0.2,"color":"#7202f3"},{"offset":0.25,"color":"#8004ff"},{"offset":0.3,"color":"#8c07f3"},{"offset":0.35,"color":"#970bce"},{"offset":0.4,"color":"#a11096"},{"offset":0.45,"color":"#ab174f"},{"offset":0.5,"color":"#b42000"},{"offset":0.6,"color":"#c63700"},{"offset":0.7,"color":"#d55700"},{"offset":0.8,"color":"#e48300"},{"offset":0.9,"color":"#f2ba00"},{"offset":1,"color":"#ffff00"}]}},"encoding":{"y":{"field":"v0","type":"quantitative","scale":{"domain":[0,0.01005],"nice":false},"axis":{"orient":"right","values":[0,0.00104,0.00208,0.00312,0.00416,0.0052,0.00624,0.00728,0.00832,0.00936],"format":".5f","title":null,"labelFontSize":31,"tickSize":12,"tickWidth":3,"labelPadding":10}},"y2":{"field":"v1"}}}
]},{"spacing":43,"hconcat":[
{"width":785,"height":757,"view":{"fill":"black","stroke":null},"title":"(b)","layer":[{"data":{"name":"b"},"mark":{"type":"rect","width":80,"height":42,"clip":true},"encoding":{"x":{"field":"t","type":"quantitative","scale":{"domain":[1,90],"nice":false,"zero":false},"axis":{"values":[20,40,60,80],"title":"θ"}},"y":{"field":"r","type":"quantitative","scale":{"domain":[0.3,1.8],"nice":false,"zero":false},"axis":{"values":[0.4,0.8,1.2,1.6],"format":".1f","title":"r, nm"}},"color":{"field":"v","type":"quantitative","legend":null,"scale":{"domain":[0,5,10,15,20,25,30,35,40,45,50,60,70,80,90,100],"range":["#000000","#39004f","#510096","#6301ce","#7202f3","#8004ff","#8c07f3","#970bce","#a11096","#ab174f","#b42000","#c63700","#d55700","#e48300","#f2ba00","#ffff00"]}}}},{"data":{"values":[{}]},"mark":{"type":"rect","filled":false,"stroke":"black","strokeWidth":5},"encoding":{}}]},
{"width":39,"height":757,"data":{"values":[{"v0":0,"v1":0.0405}]},"mark":{"type":"rect","stroke":"black","strokeWidth":7,"fill":{"gradient":"linear","x1":0,"y1":1,"x2":0,"y2":0,"stops":[{"offset":0,"color":"#000000"},{"offset":0.05,"color":"#39004f"},{"offset":0.1,"color":"#510096"},{"offset":0.15,"color":"#6301ce"},{"offset":0.2,"color":"#7202f3"},{"offset":0.25,"color":"#8004ff"},{"offset":0.3,"color":"#8c07f3"},{"offset":0.35,"color":"#970bce"},{"offset":0.4,"color":"#a11096"},{"offset":0.45,"color":"#ab174f"},{"offset":0.5,"color":"#b42000"},{"offset":0.6,"color":"#c63700"},{"offset":0.7,"color":"#d55700"},{"offset":0.8,"color":"#e48300"},{"offset":0.9,"color":"#f2ba00"},{"offset":1,"color":"#ffff00"}]}},"encoding":{"y":{"field":"v0","type":"quantitative","scale":{"domain":[0,0.0405],"nice":false},"axis":{"orient":"right","values":[0,0.0042,0.0084,0.0126,0.0168,0.021,0.0252,0.0294,0.0336,0.0378],"format":".4f","title":null,"labelFontSize":31,"tickSize":12,"tickWidth":3,"labelPadding":10}},"y2":{"field":"v1"}}}
]}]},
{"spacing":247,"hconcat":[{"spacing":43,"hconcat":[
{"width":787,"height":757,"view":{"fill":"black","stroke":null},"title":"(c)","layer":[{"data":{"name":"c"},"mark":{"type":"rect","width":80,"height":21.5,"clip":true},"encoding":{"x":{"field":"t","type":"quantitative","scale":{"domain":[1,90],"nice":false,"zero":false},"axis":{"values":[25,50,75],"title":"θ"}},"y":{"field":"r","type":"quantitative","scale":{"domain":[0.3,1.8],"nice":false,"zero":false},"axis":{"values":[0.4,0.8,1.2,1.6],"format":".1f","title":"r, nm"}},"color":{"field":"v","type":"quantitative","legend":null,"scale":{"domain":[0,5,10,15,20,25,30,35,40,45,50,60,70,80,90,100],"range":["#000000","#39004f","#510096","#6301ce","#7202f3","#8004ff","#8c07f3","#970bce","#a11096","#ab174f","#b42000","#c63700","#d55700","#e48300","#f2ba00","#ffff00"]}}}},{"data":{"values":[{}]},"mark":{"type":"rect","filled":false,"stroke":"black","strokeWidth":5},"encoding":{}}]},
{"width":39,"height":757,"data":{"values":[{"v0":0,"v1":0.0158}]},"mark":{"type":"rect","stroke":"black","strokeWidth":7,"fill":{"gradient":"linear","x1":0,"y1":1,"x2":0,"y2":0,"stops":[{"offset":0,"color":"#000000"},{"offset":0.05,"color":"#39004f"},{"offset":0.1,"color":"#510096"},{"offset":0.15,"color":"#6301ce"},{"offset":0.2,"color":"#7202f3"},{"offset":0.25,"color":"#8004ff"},{"offset":0.3,"color":"#8c07f3"},{"offset":0.35,"color":"#970bce"},{"offset":0.4,"color":"#a11096"},{"offset":0.45,"color":"#ab174f"},{"offset":0.5,"color":"#b42000"},{"offset":0.6,"color":"#c63700"},{"offset":0.7,"color":"#d55700"},{"offset":0.8,"color":"#e48300"},{"offset":0.9,"color":"#f2ba00"},{"offset":1,"color":"#ffff00"}]}},"encoding":{"y":{"field":"v0","type":"quantitative","scale":{"domain":[0,0.0158],"nice":false},"axis":{"orient":"right","values":[0,0.0016,0.0032,0.0048,0.0064,0.008,0.0096,0.0112,0.0128,0.0144],"format":".4f","title":null,"labelFontSize":31,"tickSize":12,"tickWidth":3,"labelPadding":10}},"y2":{"field":"v1"}}}
]},{"spacing":43,"hconcat":[
{"width":785,"height":757,"view":{"fill":"black","stroke":null},"title":"(d)","layer":[{"data":{"name":"d"},"mark":{"type":"rect","width":80,"height":42,"clip":true},"encoding":{"x":{"field":"t","type":"quantitative","scale":{"domain":[1,90],"nice":false,"zero":false},"axis":{"values":[25,50,75],"title":"θ"}},"y":{"field":"r","type":"quantitative","scale":{"domain":[0.3,1.8],"nice":false,"zero":false},"axis":{"values":[0.4,0.8,1.2,1.6],"format":".1f","title":"r, nm"}},"color":{"field":"v","type":"quantitative","legend":null,"scale":{"domain":[0,5,10,15,20,25,30,35,40,45,50,60,70,80,90,100],"range":["#000000","#39004f","#510096","#6301ce","#7202f3","#8004ff","#8c07f3","#970bce","#a11096","#ab174f","#b42000","#c63700","#d55700","#e48300","#f2ba00","#ffff00"]}}}},{"data":{"values":[{}]},"mark":{"type":"rect","filled":false,"stroke":"black","strokeWidth":5},"encoding":{}}]},
{"width":39,"height":757,"data":{"values":[{"v0":0,"v1":0.02204}]},"mark":{"type":"rect","stroke":"black","strokeWidth":7,"fill":{"gradient":"linear","x1":0,"y1":1,"x2":0,"y2":0,"stops":[{"offset":0,"color":"#000000"},{"offset":0.05,"color":"#39004f"},{"offset":0.1,"color":"#510096"},{"offset":0.15,"color":"#6301ce"},{"offset":0.2,"color":"#7202f3"},{"offset":0.25,"color":"#8004ff"},{"offset":0.3,"color":"#8c07f3"},{"offset":0.35,"color":"#970bce"},{"offset":0.4,"color":"#a11096"},{"offset":0.45,"color":"#ab174f"},{"offset":0.5,"color":"#b42000"},{"offset":0.6,"color":"#c63700"},{"offset":0.7,"color":"#d55700"},{"offset":0.8,"color":"#e48300"},{"offset":0.9,"color":"#f2ba00"},{"offset":1,"color":"#ffff00"}]}},"encoding":{"y":{"field":"v0","type":"quantitative","scale":{"domain":[0,0.02204],"nice":false},"axis":{"orient":"right","values":[0,0.0023,0.0046,0.0069,0.0092,0.0115,0.0138,0.0161,0.0184,0.0207],"format":".4f","title":null,"labelFontSize":31,"tickSize":12,"tickWidth":3,"labelPadding":10}},"y2":{"field":"v1"}}}
]}]},
{"spacing":227,"hconcat":[{"spacing":43,"hconcat":[
{"width":787,"height":757,"view":{"fill":"black","stroke":null},"title":"(e)","layer":[{"data":{"name":"e"},"mark":{"type":"rect","width":80,"height":42,"clip":true},"encoding":{"x":{"field":"t","type":"quantitative","scale":{"domain":[1,90],"nice":false,"zero":false},"axis":{"values":[25,50,75],"title":"θ"}},"y":{"field":"r","type":"quantitative","scale":{"domain":[0.3,1.8],"nice":false,"zero":false},"axis":{"values":[0.4,0.8,1.2,1.6],"format":".1f","title":"r, nm"}},"color":{"field":"v","type":"quantitative","legend":null,"scale":{"domain":[0,5,10,15,20,25,30,35,40,45,50,60,70,80,90,100],"range":["#000000","#39004f","#510096","#6301ce","#7202f3","#8004ff","#8c07f3","#970bce","#a11096","#ab174f","#b42000","#c63700","#d55700","#e48300","#f2ba00","#ffff00"]}}}},{"data":{"values":[{}]},"mark":{"type":"rect","filled":false,"stroke":"black","strokeWidth":5},"encoding":{}}]},
{"width":39,"height":757,"data":{"values":[{"v0":0,"v1":0.00696}]},"mark":{"type":"rect","stroke":"black","strokeWidth":7,"fill":{"gradient":"linear","x1":0,"y1":1,"x2":0,"y2":0,"stops":[{"offset":0,"color":"#000000"},{"offset":0.05,"color":"#39004f"},{"offset":0.1,"color":"#510096"},{"offset":0.15,"color":"#6301ce"},{"offset":0.2,"color":"#7202f3"},{"offset":0.25,"color":"#8004ff"},{"offset":0.3,"color":"#8c07f3"},{"offset":0.35,"color":"#970bce"},{"offset":0.4,"color":"#a11096"},{"offset":0.45,"color":"#ab174f"},{"offset":0.5,"color":"#b42000"},{"offset":0.6,"color":"#c63700"},{"offset":0.7,"color":"#d55700"},{"offset":0.8,"color":"#e48300"},{"offset":0.9,"color":"#f2ba00"},{"offset":1,"color":"#ffff00"}]}},"encoding":{"y":{"field":"v0","type":"quantitative","scale":{"domain":[0,0.00696],"nice":false},"axis":{"orient":"right","values":[0,0.00072,0.00144,0.00216,0.00288,0.0036,0.00432,0.00504,0.00576,0.00648],"format":".5f","title":null,"labelFontSize":31,"tickSize":12,"tickWidth":3,"labelPadding":10}},"y2":{"field":"v1"}}}
]},{"spacing":43,"hconcat":[
{"width":785,"height":757,"view":{"fill":"black","stroke":null},"title":"(f)","layer":[{"data":{"name":"f"},"mark":{"type":"rect","width":80,"height":42,"clip":true},"encoding":{"x":{"field":"t","type":"quantitative","scale":{"domain":[1,90],"nice":false,"zero":false},"axis":{"values":[25,50,75],"title":"θ"}},"y":{"field":"r","type":"quantitative","scale":{"domain":[0.3,1.8],"nice":false,"zero":false},"axis":{"values":[0.4,0.8,1.2,1.6],"format":".1f","title":"r, nm"}},"color":{"field":"v","type":"quantitative","legend":null,"scale":{"domain":[0,5,10,15,20,25,30,35,40,45,50,60,70,80,90,100],"range":["#000000","#39004f","#510096","#6301ce","#7202f3","#8004ff","#8c07f3","#970bce","#a11096","#ab174f","#b42000","#c63700","#d55700","#e48300","#f2ba00","#ffff00"]}}}},{"data":{"values":[{}]},"mark":{"type":"rect","filled":false,"stroke":"black","strokeWidth":5},"encoding":{}}]},
{"width":39,"height":757,"data":{"values":[{"v0":0,"v1":0.02267}]},"mark":{"type":"rect","stroke":"black","strokeWidth":7,"fill":{"gradient":"linear","x1":0,"y1":1,"x2":0,"y2":0,"stops":[{"offset":0,"color":"#000000"},{"offset":0.05,"color":"#39004f"},{"offset":0.1,"color":"#510096"},{"offset":0.15,"color":"#6301ce"},{"offset":0.2,"color":"#7202f3"},{"offset":0.25,"color":"#8004ff"},{"offset":0.3,"color":"#8c07f3"},{"offset":0.35,"color":"#970bce"},{"offset":0.4,"color":"#a11096"},{"offset":0.45,"color":"#ab174f"},{"offset":0.5,"color":"#b42000"},{"offset":0.6,"color":"#c63700"},{"offset":0.7,"color":"#d55700"},{"offset":0.8,"color":"#e48300"},{"offset":0.9,"color":"#f2ba00"},{"offset":1,"color":"#ffff00"}]}},"encoding":{"y":{"field":"v0","type":"quantitative","scale":{"domain":[0,0.02267],"nice":false},"axis":{"orient":"right","values":[0,0.0023,0.0046,0.0069,0.0092,0.0115,0.0138,0.0161,0.0184,0.0207],"format":".4f","title":null,"labelFontSize":31,"tickSize":12,"tickWidth":3,"labelPadding":10}},"y2":{"field":"v1"}}}
]}]}
]}
